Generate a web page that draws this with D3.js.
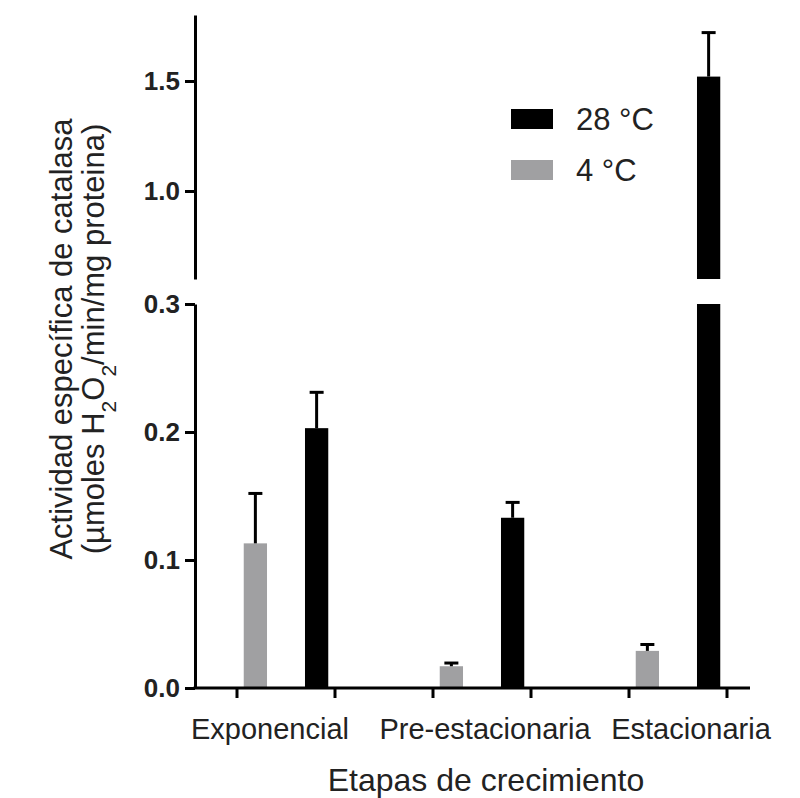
<!DOCTYPE html>
<html>
<head>
<meta charset="utf-8">
<script src="https://cdn.jsdelivr.net/npm/d3@7"></script>
<style>
  body { margin: 0; background: #fff; }
  svg text { font-family: "Liberation Sans", Arial, Helvetica, sans-serif; fill: #222; }
</style>
</head>
<body>
<div id="chart"></div>
<script>
// data
const categories = ["Exponencial", "Pre-estacionaria", "Estacionaria"];
const seriesNames = ["4 °C", "28 °C"];
const values4 = [0.113, 0.017, 0.029];
const errors4 = [0.039, 0.0025, 0.005];
const values28 = [0.203, 0.133, 1.52];
const errors28 = [0.028, 0.012, 0.20];
const lowTicks = [0.0, 0.1, 0.2, 0.3];
const highTicks = [1.0, 1.5];
const colors = ["#a0a0a2", "#000000"];

const width = 800, height = 798;
const axisX = 195;

const svg = d3.select("#chart").append("svg")
    .attr("width", width)
    .attr("height", height);

// two y segments (broken axis)
const yLow = d3.scaleLinear().domain([0, 0.3]).range([688, 304]);
const yHigh = d3.scaleLinear().domain([0.6, 1.8]).range([279, 15]);

// groups and bars within group
const x = d3.scaleBand().domain(categories).range([237, 727]).paddingInner(0.5).paddingOuter(0);
const xs = d3.scaleBand().domain(seriesNames).range([0, x.bandwidth()]).paddingInner(0.62).paddingOuter(0.11);

const rows = [];
categories.forEach(function(c, i) {
  rows.push({cat: c, s: seriesNames[0], v: values4[i], e: errors4[i], color: colors[0]});
  rows.push({cat: c, s: seriesNames[1], v: values28[i], e: errors28[i], color: colors[1]});
});

// bars, lower segment
svg.append("g").selectAll("rect")
  .data(rows)
  .join("rect")
    .attr("x", d => x(d.cat) + xs(d.s))
    .attr("width", xs.bandwidth())
    .attr("y", d => yLow(Math.min(d.v, 0.3)))
    .attr("height", d => yLow(0) - yLow(Math.min(d.v, 0.3)))
    .style("fill", d => d.color);

// bars, upper segment
svg.append("g").selectAll("rect")
  .data(rows.filter(d => d.v > 0.6))
  .join("rect")
    .attr("x", d => x(d.cat) + xs(d.s))
    .attr("width", xs.bandwidth())
    .attr("y", d => yHigh(d.v))
    .attr("height", d => yHigh(0.6) - yHigh(d.v))
    .style("fill", d => d.color);

// error bars (upper only)
const capW = 14;
const err = svg.append("g").selectAll("g")
  .data(rows)
  .join("g")
    .attr("transform", d => "translate(" + (x(d.cat) + xs(d.s) + xs.bandwidth() / 2) + ",0)");
function yOf(v) { return v > 0.6 ? yHigh(v) : yLow(v); }
err.append("line")
    .attr("y1", d => yOf(d.v))
    .attr("y2", d => yOf(d.v + d.e))
    .attr("stroke", "#000")
    .attr("stroke-width", 3);
err.append("line")
    .attr("x1", -capW / 2).attr("x2", capW / 2)
    .attr("y1", d => yOf(d.v + d.e))
    .attr("y2", d => yOf(d.v + d.e))
    .attr("stroke", "#000")
    .attr("stroke-width", 3);

// y axes
const gLow = svg.append("g")
    .attr("transform", "translate(" + axisX + ",0)")
    .call(d3.axisLeft(yLow).tickValues(lowTicks).tickFormat(d3.format(".1f")).tickSize(10).tickSizeOuter(0));
const gHigh = svg.append("g")
    .attr("transform", "translate(" + axisX + ",0)")
    .call(d3.axisLeft(yHigh).tickValues(highTicks).tickFormat(d3.format(".1f")).tickSize(10).tickSizeOuter(0));
[gLow, gHigh].forEach(function(g) {
  g.select(".domain").attr("stroke-width", 3);
  g.selectAll(".tick line").attr("stroke-width", 3);
  g.selectAll(".tick text")
    .attr("x", -15)
    .style("font-size", "26px")
    .style("font-weight", "bold")
    .style("font-family", "'Liberation Sans', Arial, sans-serif")
    .attr("fill", "#222");
});

// x axis with ticks at group edges
const edgeTicks = [];
categories.forEach(c => { edgeTicks.push(x(c)); edgeTicks.push(x(c) + x.bandwidth()); });
const gx = svg.append("g");
gx.append("line")
    .attr("x1", axisX - 1.5).attr("x2", 750)
    .attr("y1", yLow(0)).attr("y2", yLow(0))
    .attr("stroke", "#000").attr("stroke-width", 3);
gx.selectAll(".xt")
  .data(edgeTicks)
  .join("line")
    .attr("class", "xt")
    .attr("x1", d => d).attr("x2", d => d)
    .attr("y1", yLow(0)).attr("y2", yLow(0) + 10)
    .attr("stroke", "#000").attr("stroke-width", 3);
const labelShift = [-16, 3, 13];
gx.selectAll(".xl")
  .data(categories)
  .join("text")
    .attr("class", "xl")
    .attr("x", (d, i) => x(d) + x.bandwidth() / 2 + labelShift[i])
    .attr("y", 739)
    .attr("text-anchor", "middle")
    .style("font-size", "29px")
    .text(d => d);

// x title
svg.append("text")
    .attr("x", 486)
    .attr("y", 791)
    .attr("text-anchor", "middle")
    .style("font-size", "32px")
    .text("Etapas de crecimiento");

// y title (two lines)
const yt = svg.append("g").attr("transform", "translate(0,339) rotate(-90)");
yt.append("text")
    .attr("x", 0).attr("y", 72)
    .attr("text-anchor", "middle")
    .style("font-size", "31px")
    .text("Actividad específica de catalasa");
const yt2 = yt.append("text")
    .attr("x", 0).attr("y", 104)
    .attr("text-anchor", "middle")
    .style("font-size", "31px");
yt2.append("tspan").text("(µmoles H");
yt2.append("tspan").attr("baseline-shift", "sub").style("font-size", "21px").text("2");
yt2.append("tspan").text("O");
yt2.append("tspan").attr("baseline-shift", "sub").style("font-size", "21px").text("2");
yt2.append("tspan").text("/min/mg proteina)");

// legend
const legendOrder = [1, 0];
const lg = svg.append("g").attr("transform", "translate(511,109)");
const li = lg.selectAll("g")
  .data(legendOrder)
  .join("g")
    .attr("transform", (d, i) => "translate(0," + (i * 51) + ")");
li.append("rect")
    .attr("width", 42).attr("height", 20)
    .style("fill", d => colors[d]);
li.append("text")
    .attr("x", 65).attr("y", 10)
    .attr("dy", "0.35em")
    .style("font-size", "31px")
    .text(d => seriesNames[d]);
</script>
</body>
</html>
